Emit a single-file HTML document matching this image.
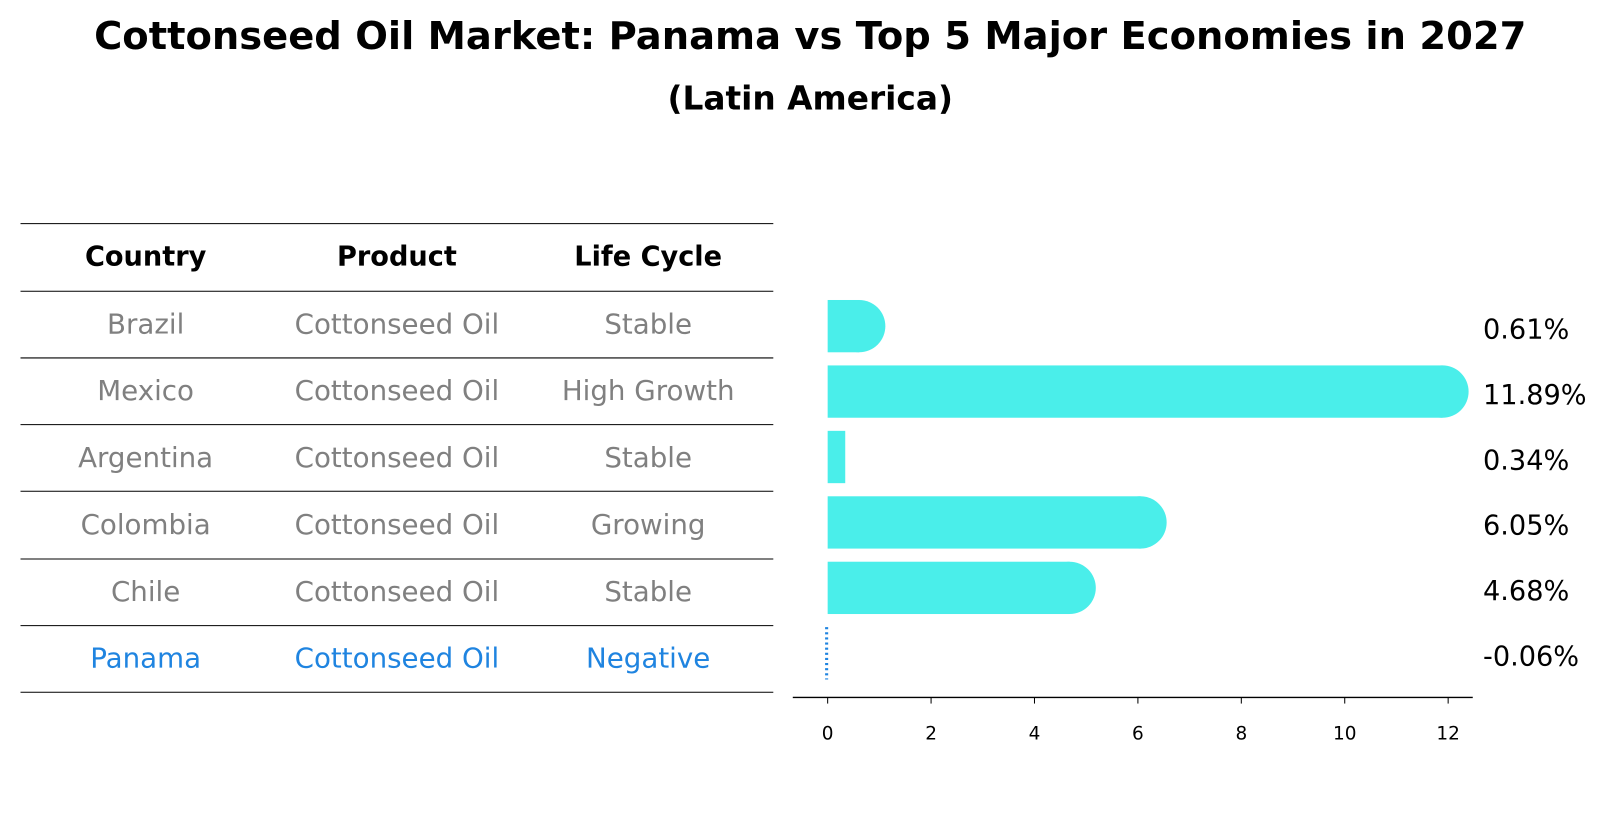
<!DOCTYPE html>
<html><head><meta charset="utf-8"><style>
body{margin:0;background:#fff;font-family:"DejaVu Sans","Liberation Sans",sans-serif;}
svg{display:block}
</style></head><body>
<svg width="1604" height="823" xmlns="http://www.w3.org/2000/svg" font-family="DejaVu Sans, Liberation Sans, sans-serif">
<g transform="scale(1.0256)">
<text x="790" y="48" text-anchor="middle" font-size="37.5" font-weight="bold">Cottonseed Oil Market: Panama vs Top 5 Major Economies in 2027</text>
<text x="790" y="107" text-anchor="middle" font-size="32" font-weight="bold">(Latin America)</text>
<g id="table"></g>
<g id="bars"></g>
</g>
</svg>
<script>
const countries=["Brazil","Mexico","Argentina","Colombia","Chile","Panama"];
const products=["Cottonseed Oil","Cottonseed Oil","Cottonseed Oil","Cottonseed Oil","Cottonseed Oil","Cottonseed Oil"];
const lifecycles=["Stable","High Growth","Stable","Growing","Stable","Negative"];
const values=[0.61,11.89,0.34,6.05,4.68,-0.06];
const ticks=[0,2,4,6,8,10,12];
const NS="http://www.w3.org/2000/svg";
function mk(tag,attrs,parent,text){const e=document.createElementNS(NS,tag);for(const k in attrs)e.setAttribute(k,attrs[k]);if(text!==undefined)e.textContent=text;parent.appendChild(e);return e;}
const table=document.getElementById('table');
const bars=document.getElementById('bars');
const lineYs=[218,284,349,414,479,545,610,675];
lineYs.forEach((y,i)=>{const l=mk('line',{x1:20,x2:754,y1:y,y2:y,stroke:'#000','stroke-width':1},table);

});
const colX=[142,387,632];
["Country","Product","Life Cycle"].forEach((h,i)=>{const t=mk('text',{x:colX[i],y:259,'text-anchor':'middle','font-size':26.5,'font-weight':'bold'},table,h);

});
const rowY=i=>316+i*65.2;
countries.forEach((c,i)=>{const col=c==="Panama"?"#1f84e0":"#808080";
[c,products[i],lifecycles[i]].forEach((v,j)=>{const t=mk('text',{x:colX[j],y:rowY(i)+9,'text-anchor':'middle','font-size':27,fill:col},table,v);

});});
const x0=807,scale=(1412-807)/12;
const xs=v=>x0+v*scale;
const by=i=>318+i*63.8;
const bh=51,r=25.5;
values.forEach((v,i)=>{const cy=by(i);
if(v<0){const l=mk('line',{x1:xs(0)-1,x2:xs(0)-1,y1:cy-bh/2,y2:cy+bh/2,stroke:'#1f84e0','stroke-width':3,'stroke-dasharray':'2,3'},bars);

}
else{const g=mk('g',{},bars);


mk('rect',{x:xs(0),y:cy-bh/2,width:xs(v)-xs(0),height:bh,fill:'#4aeeea'},g);
if(v>0.5)mk('circle',{cx:xs(v),cy:cy,r:r,fill:'#4aeeea'},g);}
const t=mk('text',{x:1446,y:cy+12,'font-size':26.5},bars,values[i].toFixed(2)+'%');

});
const ax=mk('line',{x1:773,x2:1436,y1:680,y2:680,stroke:'#000','stroke-width':1.3},bars);


ticks.forEach(t=>{const g=mk('g',{},bars);


mk('line',{x1:xs(t),x2:xs(t),y1:680,y2:686,stroke:'#000','stroke-width':1},g);
mk('text',{x:xs(t),y:721,'text-anchor':'middle','font-size':18},g,String(t));});
</script>
</body></html>
